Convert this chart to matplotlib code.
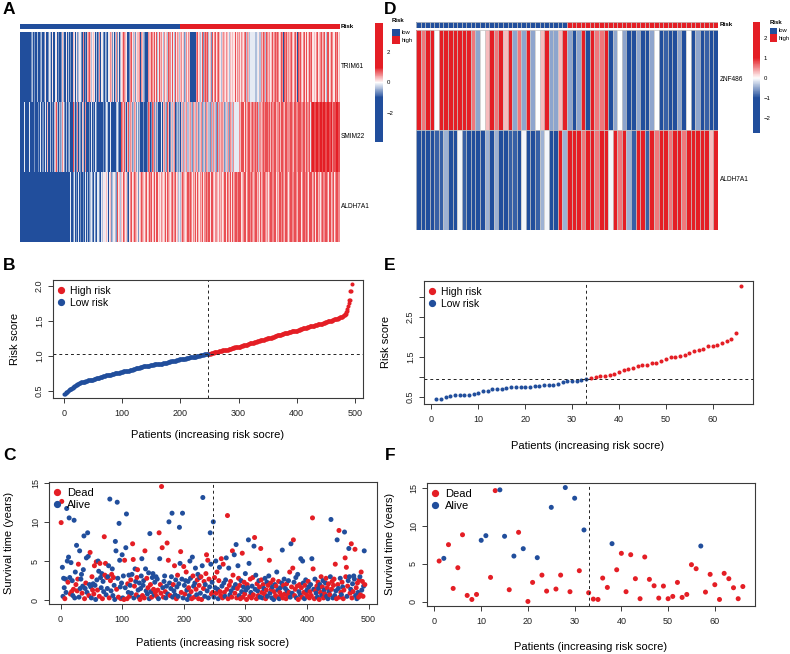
import matplotlib
matplotlib.use('Agg')
import matplotlib.pyplot as plt
import numpy as np
from matplotlib.colors import LinearSegmentedColormap, ListedColormap, Normalize
from matplotlib.lines import Line2D
from matplotlib.patches import Rectangle

plt.rcParams['font.family'] = ['Liberation Sans', 'DejaVu Sans']

RED = '#E41E25'
BLUE = '#214E9C'
INK = '#3a3a3a'
GRID = '#c8c8c8'

# ---------------- data: training cohort (A, B, C) ----------------
n_low_a = 247

# sorted risk scores, 494 patients
risk_b = [
    0.46, 0.46, 0.47, 0.48, 0.49, 0.49, 0.50, 0.51, 0.51, 0.52,
    0.52, 0.53, 0.53, 0.54, 0.54, 0.55, 0.56, 0.57, 0.57, 0.58,
    0.59, 0.59, 0.60, 0.60, 0.60, 0.61, 0.61, 0.61, 0.62, 0.62,
    0.62, 0.62, 0.63, 0.63, 0.63, 0.63, 0.64, 0.64, 0.64, 0.64,
    0.65, 0.65, 0.65, 0.65, 0.65, 0.66, 0.66, 0.66, 0.66, 0.66,
    0.67, 0.67, 0.67, 0.67, 0.68, 0.68, 0.68, 0.69, 0.69, 0.69,
    0.69, 0.70, 0.70, 0.70, 0.70, 0.70, 0.71, 0.71, 0.71, 0.71,
    0.71, 0.72, 0.72, 0.72, 0.72, 0.72, 0.73, 0.73, 0.73, 0.73,
    0.73, 0.74, 0.74, 0.74, 0.74, 0.74, 0.75, 0.75, 0.75, 0.75,
    0.75, 0.76, 0.76, 0.76, 0.76, 0.76, 0.77, 0.77, 0.77, 0.77,
    0.77, 0.78, 0.78, 0.78, 0.78, 0.78, 0.79, 0.79, 0.79, 0.79,
    0.79, 0.79, 0.80, 0.80, 0.80, 0.80, 0.80, 0.80, 0.81, 0.81,
    0.81, 0.81, 0.82, 0.82, 0.82, 0.82, 0.83, 0.83, 0.83, 0.83,
    0.84, 0.84, 0.84, 0.84, 0.84, 0.85, 0.85, 0.85, 0.85, 0.85,
    0.85, 0.86, 0.86, 0.86, 0.86, 0.86, 0.86, 0.87, 0.87, 0.87,
    0.87, 0.87, 0.87, 0.87, 0.88, 0.88, 0.88, 0.88, 0.88, 0.88,
    0.88, 0.89, 0.89, 0.89, 0.89, 0.89, 0.89, 0.89, 0.89, 0.90,
    0.90, 0.90, 0.90, 0.90, 0.90, 0.90, 0.90, 0.91, 0.91, 0.91,
    0.91, 0.91, 0.92, 0.92, 0.92, 0.92, 0.92, 0.93, 0.93, 0.93,
    0.93, 0.93, 0.94, 0.94, 0.94, 0.94, 0.94, 0.95, 0.95, 0.95,
    0.95, 0.95, 0.95, 0.96, 0.96, 0.96, 0.96, 0.96, 0.96, 0.97,
    0.97, 0.97, 0.97, 0.97, 0.97, 0.98, 0.98, 0.98, 0.98, 0.98,
    0.98, 0.99, 0.99, 0.99, 0.99, 0.99, 0.99, 1.00, 1.00, 1.00,
    1.00, 1.00, 1.00, 1.01, 1.01, 1.01, 1.01, 1.01, 1.01, 1.01,
    1.02, 1.02, 1.02, 1.02, 1.02, 1.02, 1.02,
    1.02, 1.03, 1.03, 1.03, 1.03, 1.04, 1.04, 1.04, 1.04, 1.04,
    1.05, 1.05, 1.05, 1.05, 1.06, 1.06, 1.06, 1.06, 1.07, 1.07,
    1.07, 1.07, 1.07, 1.07, 1.08, 1.08, 1.08, 1.08, 1.08, 1.08,
    1.08, 1.09, 1.09, 1.09, 1.09, 1.10, 1.10, 1.10, 1.10, 1.10,
    1.11, 1.11, 1.11, 1.11, 1.11, 1.12, 1.12, 1.12, 1.12, 1.12,
    1.12, 1.13, 1.13, 1.13, 1.13, 1.13, 1.14, 1.14, 1.14, 1.14,
    1.15, 1.15, 1.15, 1.15, 1.16, 1.16, 1.16, 1.16, 1.17, 1.17,
    1.17, 1.18, 1.18, 1.18, 1.18, 1.19, 1.19, 1.19, 1.19, 1.20,
    1.20, 1.20, 1.20, 1.20, 1.21, 1.21, 1.21, 1.21, 1.21, 1.22,
    1.22, 1.22, 1.22, 1.23, 1.23, 1.23, 1.23, 1.24, 1.24, 1.24,
    1.24, 1.25, 1.25, 1.25, 1.25, 1.26, 1.26, 1.26, 1.26, 1.26,
    1.27, 1.27, 1.27, 1.27, 1.28, 1.28, 1.28, 1.28, 1.29, 1.29,
    1.29, 1.29, 1.30, 1.30, 1.30, 1.30, 1.31, 1.31, 1.31, 1.31,
    1.32, 1.32, 1.32, 1.33, 1.33, 1.33, 1.33, 1.33, 1.34, 1.34,
    1.34, 1.34, 1.34, 1.35, 1.35, 1.35, 1.35, 1.35, 1.35, 1.36,
    1.36, 1.36, 1.36, 1.36, 1.37, 1.37, 1.37, 1.37, 1.38, 1.38,
    1.38, 1.38, 1.39, 1.39, 1.39, 1.39, 1.40, 1.40, 1.40, 1.40,
    1.41, 1.41, 1.41, 1.41, 1.42, 1.42, 1.42, 1.42, 1.43, 1.43,
    1.43, 1.43, 1.43, 1.44, 1.44, 1.44, 1.44, 1.44, 1.45, 1.45,
    1.45, 1.45, 1.46, 1.46, 1.46, 1.46, 1.46, 1.47, 1.47, 1.47,
    1.47, 1.48, 1.48, 1.48, 1.48, 1.49, 1.49, 1.49, 1.49, 1.50,
    1.50, 1.50, 1.50, 1.51, 1.51, 1.51, 1.52, 1.52, 1.52, 1.52,
    1.53, 1.53, 1.53, 1.54, 1.54, 1.54, 1.55, 1.55, 1.55, 1.56,
    1.56, 1.57, 1.57, 1.58, 1.58, 1.59, 1.60, 1.62, 1.64, 1.67,
    1.71, 1.76, 1.79, 1.80, 1.92, 1.93, 2.02,
]

# survival time (years) per patient, same order
time_c = [
    9.9, 12.6, 4.2, 0.5, 2.8, 1.6, 0.2, 2.7, 1.0, 11.7, 5.0, 2.3, 5.5, 10.5, 2.9, 0.8, 4.8, 1.1, 2.5, 0.6, 1.4, 10.2, 0.3, 3.6, 2.0, 7.0,
    1.2, 2.7, 4.6, 0.4, 6.3, 1.5, 2.7, 3.3, 0.9, 1.8, 3.9, 8.2, 0.2, 1.5, 2.2, 5.4, 1.0, 8.6, 5.6, 0.6, 2.0, 6.1, 1.7, 0.3, 3.0, 1.3,
    2.1, 0.8, 4.4, 1.9, 0.1, 4.9, 2.6, 1.3, 5.0, 3.7, 0.5, 4.7, 2.9, 1.6, 3.4, 0.2, 2.4, 1.1, 8.1, 3.2, 4.7, 0.7, 2.9, 1.5, 3.0, 4.4,
    0.3, 12.9, 2.5, 1.2, 3.3, 4.0, 0.6, 2.9, 1.9, 0.1, 7.5, 6.3, 1.4, 12.5, 2.8, 0.4, 9.8, 5.1, 1.7, 0.2, 2.2, 5.8, 0.3, 3.1, 0.1, 5.1,
    1.6, 6.7, 11.0, 0.2, 2.1, 1.0, 3.2, 0.5, 1.9, 2.6, 0.9, 3.3, 7.2, 5.2, 0.3, 1.8, 4.0, 2.4, 0.7, 2.9, 3.9, 1.3, 0.4, 2.2, 0.1, 1.5,
    3.1, 5.3, 0.6, 1.9, 2.5, 0.3, 6.3, 4.0, 1.2, 2.8, 0.8, 1.6, 3.5, 0.2, 8.5, 2.0, 1.1, 0.4, 2.9, 3.4, 1.4, 0.7, 2.3, 1.0, 3.0, 0.5,
    2.7, 1.3, 0.2, 8.6, 5.3, 2.0, 0.9, 14.5, 6.7, 1.6, 0.4, 2.4, 3.1, 1.1, 0.3, 1.8, 7.3, 0.8, 5.1, 10.0, 2.2, 0.6, 1.5, 3.0, 11.1, 0.4,
    2.0, 1.2, 4.4, 0.7, 2.6, 0.2, 1.7, 3.2, 0.5, 2.1, 9.3, 4.7, 6.2, 1.0, 2.7, 11.1, 0.3, 4.3, 1.9, 0.8, 2.5, 3.6, 1.3, 0.1, 2.4, 1.6,
    0.6, 5.0, 2.8, 1.1, 0.2, 5.5, 3.1, 1.8, 0.4, 2.2, 4.1, 1.4, 0.7, 2.6, 3.3, 0.2, 1.9, 2.9, 0.9, 3.0, 0.1, 4.4, 13.1, 1.5, 2.4, 0.5,
    2.0, 3.4, 5.8, 1.2, 5.1, 0.3, 2.7, 1.7, 8.6, 4.6, 0.8, 2.3, 1.0, 10.0, 0.4, 2.9, 1.6, 5.0, 0.9, 3.6, 1.4, 0.2, 2.5, 4.2, 1.1, 0.6,
    5.3, 1.8, 0.3, 4.6, 2.2, 1.0, 0.5, 2.6, 5.4, 1.4, 10.8, 0.2, 4.1, 1.9, 0.7, 2.4, 1.2, 0.4, 6.3, 3.2, 1.6, 5.8, 0.9, 2.0, 7.1, 0.3,
    1.5, 4.4, 2.8, 0.6, 1.9, 0.2, 2.5, 1.1, 6.0, 0.4, 1.7, 2.3, 0.8, 3.4, 1.3, 0.1, 2.0, 1.6, 7.7, 4.7, 0.5, 2.7, 1.0, 0.3, 1.8, 2.9,
    0.7, 6.9, 8.0, 1.4, 3.2, 0.2, 2.1, 1.2, 0.6, 2.5, 1.7, 0.4, 6.6, 2.6, 1.0, 0.3, 2.0, 1.5, 0.8, 2.8, 0.2, 1.3, 2.3, 0.5, 1.9, 3.1,
    5.1, 0.9, 2.2, 1.4, 0.3, 1.7, 2.6, 0.1, 1.1, 2.0, 0.6, 1.8, 3.6, 0.4, 1.3, 2.4, 0.2, 1.0, 1.6, 0.7, 2.2, 6.4, 0.3, 1.9, 2.7, 0.8,
    1.5, 0.2, 2.1, 1.2, 0.5, 2.5, 1.0, 3.6, 0.4, 7.2, 1.7, 0.9, 4.1, 7.7, 2.3, 0.6, 1.4, 2.9, 0.3, 1.8, 3.3, 0.1, 1.1, 2.0, 0.7, 5.3,
    1.6, 0.4, 5.0, 2.2, 1.0, 0.2, 1.9, 2.6, 0.8, 1.3, 0.5, 2.4, 1.7, 0.3, 1.1, 2.0, 0.6, 5.3, 10.5, 4.0, 1.4, 0.2, 2.7, 1.2, 0.9, 1.8,
    0.4, 2.3, 1.5, 0.1, 2.0, 1.0, 3.0, 0.6, 1.7, 2.5, 0.3, 1.3, 0.8, 2.2, 2.8, 0.5, 1.6, 0.2, 2.1, 1.1, 0.7, 3.0, 10.3, 1.4, 2.4, 0.3,
    1.9, 2.7, 0.6, 4.6, 1.2, 0.2, 7.7, 2.0, 1.5, 8.9, 0.4, 2.8, 1.0, 0.7, 2.3, 1.7, 0.2, 1.3, 8.7, 5.4, 3.0, 4.2, 0.5, 1.8, 2.5, 6.6,
    3.0, 0.9, 1.4, 7.2, 0.3, 2.1, 1.1, 3.1, 2.7, 6.5, 0.6, 1.6, 0.2, 2.2, 1.0, 0.4, 2.6, 3.0, 0.7, 3.6, 1.3, 2.4, 0.5, 1.8, 6.3, 2.0,
]

# 1 = dead, 0 = alive
dead_c = (
    "11000010000100010100100010"
    "11100000100010100001010011"
    "01100101001100010011101000"
    "10101001000010010001000011"
    "00011001010011010011100010"
    "00100110010100010100100101"
    "01010111101001001010010000"
    "10100101000011000101010001"
    "00011010100101011001100110"
    "01101010001010010011001011"
    "10110100011101010111001001"
    "10101100110110011000110101"
    "10100110101011101010110010"
    "10110010101101010101001101"
    "01101011001011011001010100"
    "11001010101101101011010101"
    "01010110101010101010100110"
    "11010101011010101101110100"
    "01011010010101011011011001"
)

# heatmap A, expression levels coded 0 (deep blue) .. 9 (deep red)
code_levels = [-2.0, -1.0, -0.6, -0.35, -0.12, 0.12, 0.3, 0.5, 0.8, 2.0]
trim61_a = "".join([
    "00000000000000010213012140", "13041203140215031204130251", "21405132041526031405213602",
    "31506241752035142603714205", "67586735162405316273051426", "13627041573620516374205163",
    "57683761500102768573682576", "62751736382010017686587368", "75863578647583675863687574",
    "68573685276836475862836758", "76800000100376853637586275", "87683758627853786573868573",
    "65768578658367586575865786", "78573685768357683434434343", "43435343786857368576875868",
    "86758768375868571287586875", "67586857686208675868576857", "85768576857568576858675868",
    "76857386857686758568738576",
])
smim22_a = "".join([
    "00100040010000400101002001", "10201450212014016021031420", "23628371302837152613702831",
    "31208731627013520861302716", "01021040120140210012014021", "12041302140000012031402130",
    "88762837162803716283716204", "26310010201001238731628372", "36273001024136273628361726",
    "23627312632731263273162736", "36273627363173627363728367", "27363736274373637286373627",
    "73627368376273683764434434", "78687868578687878687867878", "87863787687837868787386787",
    "87878687878768787868787878", "78787868787878687878787868", "87878649898989898989898989",
    "98989898989898789898989898",
])
aldh7a1_a = "".join([
    "00000000000000000000000000", "00000000000100000000000000", "00000000000000000000000414",
    "01402140120041021401201402", "31423142013423140423142356", "45362413564231456327845673",
    "67586757620135768576857685", "27586857685768576857685768", "75868576587685768658576857",
    "78657685763243768576857685", "87687857868757868578687578", "78578687587868578768578687",
    "58687857878687578687858768", "87858687878587868758786878", "78687578687858786875878687",
    "87878587868787587868787858", "78687878587868787858786878", "87858787868787587868758787",
    "78786878587868787587868787",
])
genes_a = ['TRIM61', 'SMIM22', 'ALDH7A1']

# ---------------- data: validation cohort (D, E, F) ----------------
n_low_e = 33
risk_e = [
    0.43, 0.44, 0.50, 0.52, 0.53, 0.53, 0.53, 0.54, 0.57, 0.60,
    0.64, 0.65, 0.68, 0.69, 0.69, 0.72, 0.73, 0.73, 0.74, 0.75,
    0.75, 0.76, 0.76, 0.78, 0.79, 0.80, 0.82, 0.87, 0.88, 0.89,
    0.90, 0.92, 0.93, 0.96, 1.00, 1.01, 1.02, 1.03, 1.06, 1.11,
    1.16, 1.20, 1.22, 1.26, 1.29, 1.29, 1.34, 1.35, 1.38, 1.43,
    1.49, 1.50, 1.52, 1.53, 1.58, 1.65, 1.66, 1.70, 1.76, 1.77,
    1.78, 1.83, 1.90, 1.95, 2.10, 3.28,
]
time_f = [
    5.35, 5.7, 7.5, 1.75, 4.47, 8.8, 0.83, 0.3, 0.96, 8.07,
    8.68, 3.2, 14.6, 14.7, 8.6, 1.58, 6.0, 9.12, 6.97, 0.04,
    2.54, 5.79, 3.5, 1.4, 12.4, 1.67, 3.5, 15.0, 1.32, 13.6,
    4.08, 9.43, 1.18, 0.35, 0.3, 3.11, 1.88, 7.63, 4.2, 6.36,
    1.32, 6.18, 3.03, 0.4, 5.88, 2.94, 2.1, 0.48, 2.06, 0.4,
    0.7, 2.54, 0.57, 0.96, 4.87, 4.34, 7.32, 1.27, 3.6, 2.24,
    0.3, 3.73, 3.03, 1.84, 0.4, 2.0,
]
dead_f = "1011111110" "0110010101" "1011011010" "1011111011" "1111111111" "1111110111" "111111"

znf486_d = [
    2.2, 0.6, 2.2, 2.2, 0.0, 2.2, 2.2, 2.2, 2.2, 2.2,
    2.8, 1.0, 0.6, -0.5, 0.0, 0.3, 2.2, 0.6, 2.2, 0.3,
    2.2, -0.5, 0.6, -0.5, 2.2, -0.5, 0.0, 0.3, 2.2, -0.5,
    -0.5, 0.3, 2.2, -0.5, -2.0, -0.5, 2.2, -2.0, 2.2, 0.6,
    0.6, 2.2, -2.0, -0.5, 0.0, -0.5, -2.0, -2.0, -0.5, -2.0,
    -2.0, -0.5, 0.0, -2.0, -0.9, -2.0, -2.0, -0.5, -2.0, 0.0,
    -2.0, -0.5, -2.0, -0.9, -2.75, -2.0,
]
aldh7a1_d = [
    -2.0, -2.0, -2.0, -2.0, -0.9, -0.9, -0.45, -2.0, -2.0, -0.05,
    -0.9, -2.0, -2.0, -2.0, -2.0, -0.45, -2.0, -0.45, -2.0, -2.0,
    -0.9, -0.9, -2.0, -0.05, -2.0, -2.0, -0.9, -0.45, -0.05, -2.0,
    -2.0, 2.2, -0.45, 2.2, 2.2, 2.2, 0.6, 2.2, 2.2, 0.6,
    2.2, 2.2, -0.05, 2.2, 0.6, 2.2, -0.45, -0.9, 2.2, 2.2,
    -0.9, 2.2, 0.6, 2.2, 2.2, 0.6, 2.2, 2.2, 0.6, 2.2,
    2.2, 2.2, 2.2, 2.2, 0.3, 2.2,
]
genes_d = ['ZNF486', 'ALDH7A1']

for seq in (risk_b, time_c, dead_c, trim61_a, smim22_a, aldh7a1_a):
    assert len(seq) == 494, len(seq)
for seq in (risk_e, time_f, dead_f, znf486_d, aldh7a1_d):
    assert len(seq) == 66, len(seq)

# ---------------- figure ----------------
W, H = 790, 654
fig = plt.figure(figsize=(W / 100, H / 100), dpi=100)


def px_axes(x0, y0, x1, y1):
    return fig.add_axes([x0 / W, 1 - y1 / H, (x1 - x0) / W, (y1 - y0) / H])


def ptext(x, y, s, **kw):
    fig.text(x / W, 1 - y / H, s, **kw)


def box(x0, y0, x1, y1, color):
    fig.add_artist(Rectangle((x0 / W, 1 - y1 / H), (x1 - x0) / W, (y1 - y0) / H,
                             transform=fig.transFigure, facecolor=color, edgecolor='none'))


def heat_cmap(vmin, vmax):
    p = lambda v: (v - vmin) / (vmax - vmin)
    return LinearSegmentedColormap.from_list(
        'sat_bwr', [(0, BLUE), (p(-1), BLUE), (p(0), 'white'), (p(1), RED), (1, RED)])


def cell_grid(ax, ncol, nrow):
    # pheatmap style light borders between cells
    ax.vlines(np.arange(ncol + 1), 0, nrow, colors=GRID, linewidth=0.55)
    ax.hlines(np.arange(nrow + 1), 0, ncol, colors=GRID, linewidth=0.55)


group_cmap = ListedColormap([BLUE, RED])

# ---- A: heatmap ----
mat_a = np.array([[code_levels[int(c)] for c in s] for s in (trim61_a, smim22_a, aldh7a1_a)])
group_a = (np.arange(len(risk_b)) >= n_low_a).astype(int)
norm_a = Normalize(-3.95, 3.95)

ax = px_axes(20, 24, 339.3, 29.5)
ax.imshow(group_a[None, :], aspect='auto', cmap=group_cmap, interpolation='nearest')
ax.axis('off')
ax = px_axes(20, 31.7, 339.3, 241.7)
im_a = ax.imshow(mat_a, aspect='auto', cmap=heat_cmap(-3.95, 3.95), norm=norm_a,
                 interpolation='nearest')
ax.axis('off')
ptext(341, 27, 'Risk', fontsize=4.5, fontweight='bold', va='center')
for i, g in enumerate(genes_a):
    ptext(341, 31.7 + 70 * (i + 0.5), g, fontsize=4.7, va='center')

cax = px_axes(375, 23, 383, 142)
cb = fig.colorbar(im_a, cax=cax, ticks=[-2, 0, 2])
cb.outline.set_visible(False)
cax.tick_params(length=0, labelsize=4.3, pad=2.5)

ptext(392, 21, 'Risk', fontsize=4.3, fontweight='bold', va='center')
box(392, 28.5, 399.5, 36, BLUE)
box(392, 36, 399.5, 43.5, RED)
ptext(402, 32.5, 'low', fontsize=4.2, va='center')
ptext(402, 40.5, 'high', fontsize=4.2, va='center')

# ---- D: heatmap ----
mat_d = np.array([znf486_d, aldh7a1_d])
group_d = (np.arange(len(risk_e)) >= n_low_e).astype(int)
norm_d = Normalize(-2.75, 2.8)

ax = px_axes(416, 22, 718, 27.5)
ax.pcolormesh(group_d[None, :], cmap=group_cmap, antialiased=False)
cell_grid(ax, len(group_d), 1)
ax.set_xlim(0, len(group_d))
ax.set_ylim(1, 0)
ax.axis('off')
ax = px_axes(416, 29.7, 718, 229.7)
im_d = ax.pcolormesh(mat_d, cmap=heat_cmap(-2.75, 2.8), norm=norm_d, antialiased=False)
cell_grid(ax, mat_d.shape[1], mat_d.shape[0])
ax.set_xlim(0, mat_d.shape[1])
ax.set_ylim(mat_d.shape[0], 0)
ax.axis('off')
ptext(720, 25, 'Risk', fontsize=4.5, fontweight='bold', va='center')
for i, g in enumerate(genes_d):
    ptext(720, 29.7 + 100 * (i + 0.5), g, fontsize=4.7, va='center')

cax = px_axes(753, 22, 760, 133)
cb = fig.colorbar(im_d, cax=cax, ticks=[-2, -1, 0, 1, 2])
cb.outline.set_visible(False)
cax.tick_params(length=0, labelsize=4.3, pad=2.5)

ptext(770, 22.5, 'Risk', fontsize=4.3, fontweight='bold', va='center')
box(769.5, 28, 776.5, 34.5, BLUE)
box(769.5, 34.5, 776.5, 41.5, RED)
ptext(779, 31, 'low', fontsize=4.2, va='center')
ptext(779, 38.5, 'high', fontsize=4.2, va='center')


# ---- scatter panels ----
def r_lim(vals):
    lo, hi = min(vals), max(vals)
    pad = 0.04 * (hi - lo)
    return lo - pad, hi + pad


def r_style(ax, xticks, yticks, ylabels=None):
    for s in ax.spines.values():
        s.set_color(INK)
        s.set_linewidth(0.8)
    ax.set_xticks(xticks)
    ax.set_yticks(yticks)
    if ylabels is not None:
        ax.set_yticklabels(ylabels)
    ax.tick_params(direction='out', length=3.6, width=0.7, color=INK, labelsize=6.5, labelcolor='#222222')
    ax.tick_params(axis='x', pad=4.5)
    ax.tick_params(axis='y', pad=3, labelrotation=90)
    for lab in ax.get_yticklabels():
        lab.set_va('center')


def dot_legend(ax, labels, colors, fs):
    handles = [Line2D([], [], marker='o', ls='', color=c, markersize=4.2) for c in colors]
    ax.legend(handles, labels, loc='upper left', bbox_to_anchor=(0, 1), frameon=False,
              fontsize=fs, borderaxespad=0, borderpad=0.55, handlelength=0.4,
              handletextpad=0.7, labelspacing=0.2)


def risk_panel(box_px, risk, n_low, xticks, yticks, ylabels=None):
    ax = px_axes(*box_px)
    x = np.arange(1, len(risk) + 1)
    r = np.array(risk)
    low = x <= n_low
    ax.scatter(x[~low], r[~low], s=8.5, c=RED, linewidths=0)
    ax.scatter(x[low], r[low], s=8.5, c=BLUE, linewidths=0)
    ax.axvline(n_low, color='#222222', lw=0.7, ls=(0, (3, 3)))
    ax.axhline(np.median(r), color='#222222', lw=0.7, ls=(0, (3, 3)))
    ax.set_xlim(r_lim(x))
    ax.set_ylim(r_lim(r))
    r_style(ax, xticks, yticks, ylabels)
    dot_legend(ax, ['High risk', 'Low risk'], [RED, BLUE], 7.5)
    return ax


def surv_panel(box_px, times, dead, n_low, xticks, yticks):
    ax = px_axes(*box_px)
    x = np.arange(1, len(times) + 1)
    cols = [RED if d == '1' else BLUE for d in dead]
    ax.scatter(x, times, s=13, c=cols, linewidths=0)
    ax.axvline(n_low, color='#222222', lw=0.7, ls=(0, (3, 3)))
    ax.set_xlim(r_lim(x))
    ax.set_ylim(r_lim(times))
    r_style(ax, xticks, yticks)
    dot_legend(ax, ['Dead', 'Alive'], [RED, BLUE], 8)
    return ax


risk_panel((53, 280, 363, 398), risk_b, n_low_a, range(0, 501, 100), [0.5, 1.0, 1.5, 2.0],
           ['0.5', '1.0', '1.5', '2.0'])
risk_panel((424, 281, 753, 404), risk_e, n_low_e, range(0, 61, 10),
           [0.5, 1.0, 1.5, 2.0, 2.5, 3.0], ['0.5', '', '1.5', '', '2.5', ''])
surv_panel((49, 482, 377, 604), time_c, dead_c, n_low_a, range(0, 501, 100), [0, 5, 10, 15])
surv_panel((427, 483, 755, 606), time_f, dead_f, n_low_e, range(0, 61, 10), [0, 5, 10, 15])

xlab = 'Patients (increasing risk socre)'
ptext(208, 435, xlab, fontsize=8, ha='center', va='center')
ptext(588, 446, xlab, fontsize=8, ha='center', va='center')
ptext(213, 643, xlab, fontsize=8, ha='center', va='center')
ptext(591, 647, xlab, fontsize=8, ha='center', va='center')
ptext(15, 339, 'Risk score', fontsize=8, rotation=90, ha='center', va='center')
ptext(386, 342, 'Risk score', fontsize=8, rotation=90, ha='center', va='center')
ptext(9.5, 543, 'Survival time (years)', fontsize=8, rotation=90, ha='center', va='center')
ptext(390, 544, 'Survival time (years)', fontsize=8, rotation=90, ha='center', va='center')

for letter, (lx, ly) in {'A': (9, 10), 'B': (9, 265), 'C': (9, 456),
                         'D': (390, 10), 'E': (390, 265), 'F': (390, 456)}.items():
    ptext(lx, ly, letter, fontsize=12.5, fontweight='bold', ha='center', va='center')

fig.savefig('out.png', dpi=100)
